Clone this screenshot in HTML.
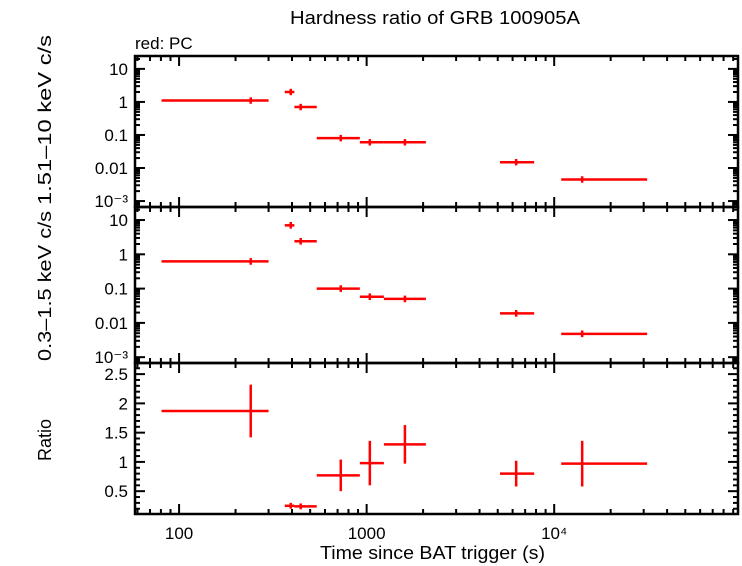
<!DOCTYPE html>
<html><head><meta charset="utf-8"><style>
body{margin:0;background:#fff}
svg{display:block;font-family:"Liberation Sans",sans-serif}
</style></head><body>
<svg id="c" width="742" height="566" viewBox="0 0 742 566">
<text x="290" y="24" font-size="18" textLength="290" lengthAdjust="spacingAndGlyphs">Hardness ratio of GRB 100905A</text>
<text x="135" y="49" font-size="17">red: PC</text>
<text x="320" y="559" font-size="18" textLength="225" lengthAdjust="spacingAndGlyphs">Time since BAT trigger (s)</text>
<text transform="translate(51,205) rotate(-90)" font-size="18" textLength="170" lengthAdjust="spacingAndGlyphs">1.51–10 keV c/s</text>
<text transform="translate(51,361) rotate(-90)" font-size="18" textLength="150" lengthAdjust="spacingAndGlyphs">0.3–1.5 keV c/s</text>
<text transform="translate(51,440) rotate(-90)" font-size="18" text-anchor="middle">Ratio</text>
</svg>
<script>
const tCenter=[241,394,445,728,1040,1600,6270,14100];
const tLo=[80.6,366,412,542,920,1236,5140,10900];
const tHi=[300,412,542,920,1236,2070,7820,31300];
const hardRate=[1.1,2.0,0.7,0.08,0.06,0.06,0.015,0.0045];
const softRate=[0.62,7.0,2.4,0.1,0.058,0.05,0.019,0.0048];
const ratioVal=[1.87,0.25,0.24,0.77,0.98,1.3,0.8,0.97];
const ratioErr=[0.45,0.05,0.05,0.27,0.38,0.33,0.22,0.39];
const xTickLabels=["100","1000","10⁴"];
const ratioTickLabels=["0.5","1","1.5","2","2.5"];
const logTickLabels=["10⁻³","0.01","0.1","1","10"];

const svg=document.getElementById('c');
const NS='http://www.w3.org/2000/svg';
const X0=135,X1=738,LX0=1.765,LX1=4.98;
const xs=t=>X0+(Math.log10(t)-LX0)/(LX1-LX0)*(X1-X0);
const panels=[
 {top:56,bot:207,lo:-3.18,hi:1.39,log:true,vals:hardRate,name:'hard'},
 {top:207,bot:363,lo:-3.17,hi:1.38,log:true,vals:softRate,name:'soft'},
 {top:363,bot:514,lo:0.11,hi:2.69,log:false,vals:ratioVal,name:'ratio'}];
function el(tag,attrs,parent){const e=document.createElementNS(NS,tag);for(const k in attrs)e.setAttribute(k,attrs[k]);(parent||svg).appendChild(e);return e;}
function line(x1,y1,x2,y2,c,w,g){return el('line',{x1,y1,x2,y2,stroke:c,'stroke-width':w},g);}
panels.forEach((p,pi)=>{
 const ys=v=>p.log? p.bot-(Math.log10(v)-p.lo)/(p.hi-p.lo)*(p.bot-p.top) : p.bot-(v-p.lo)/(p.hi-p.lo)*(p.bot-p.top);
 const g=el('g',{});
 
 
 el('rect',{x:X0,y:p.top,width:X1-X0,height:p.bot-p.top,fill:'none',stroke:'#000','stroke-width':2.5},g);
 for(let d=1;d<=4;d++)for(let m=1;m<10;m++){const t=m*Math.pow(10,d);const x=xs(t);if(x<X0||x>X1)continue;const L=m==1?10:5;
  line(x,p.top,x,p.top+L,'#000',2,g);line(x,p.bot,x,p.bot-L,'#000',2,g);}
 if(p.log){for(let d=-4;d<=1;d++)for(let m=1;m<10;m++){const v=m*Math.pow(10,d);const l=Math.log10(v);if(l<p.lo||l>p.hi)continue;const y=ys(v);const L=m==1?10:5;
   line(X0,y,X0+L,y,'#000',2,g);line(X1,y,X1-L,y,'#000',2,g);}
  logTickLabels.forEach((s,i)=>{const t=el('text',{x:X0-7,y:ys(Math.pow(10,i-3))+6,'font-size':17,'text-anchor':'end'},g);t.textContent=s;});
 }else{for(let k=2;k<=26;k++){const v=k/10;const y=ys(v);const L=(k%5==0)?10:5;
   line(X0,y,X0+L,y,'#000',2,g);line(X1,y,X1-L,y,'#000',2,g);}
  ratioTickLabels.forEach((s,i)=>{const t=el('text',{x:X0-7,y:ys(0.5+0.5*i)+6,'font-size':17,'text-anchor':'end'},g);t.textContent=s;});
 }
 p.vals.forEach((v,i)=>{
  const y=ys(v);const cx=xs(tCenter[i]);
  const e=el('g',{},g);
  
  
  line(xs(tLo[i]),y,xs(tHi[i]),y,'#f00',2.5,e);
  let y1,y2;
  if(p.log){y1=ys(v*1.25);y2=ys(v/1.25);}else{y1=ys(v+ratioErr[i]);y2=ys(v-ratioErr[i]);}
  line(cx,y1,cx,y2,'#f00',2.5,e);
 });
});
xTickLabels.forEach((s,i)=>{const t=el('text',{x:xs(Math.pow(10,i+2)),y:539,'font-size':17,'text-anchor':'middle'});t.textContent=s;
 
 });
</script>
</body></html>
